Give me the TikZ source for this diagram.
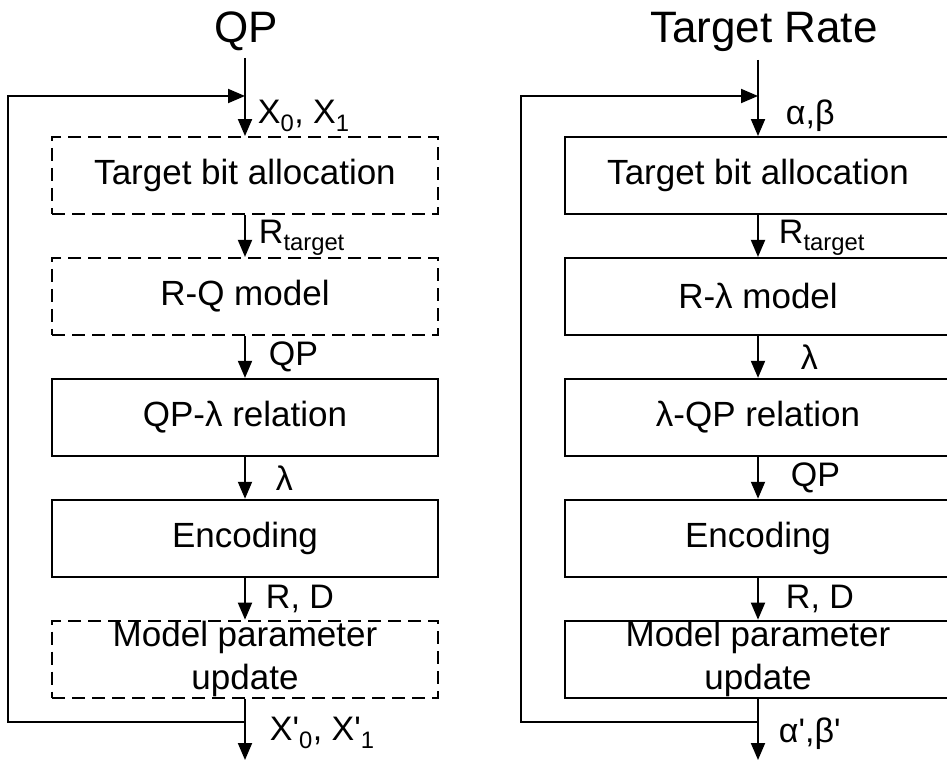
\documentclass[tikz,border=0pt]{standalone}
\usepackage{fontspec}
\setmainfont{Liberation Sans}
\usetikzlibrary{positioning,arrows.meta}
\tikzset{
  block/.style={draw, line width=1.9pt, minimum width=386pt, minimum height=77pt,
    inner sep=0pt, align=center, font=\fontsize{35}{43}\selectfont},
  dblock/.style={block, dash pattern=on 13pt off 7pt},
  wire/.style={line width=1.9pt},
  flow/.style={wire, -{Triangle[length=17pt,width=14pt]}},
  lbl/.style={anchor=west, inner sep=0pt, font=\fontsize{34}{40}\selectfont},
  heading/.style={anchor=base, inner sep=0pt, font=\fontsize{44}{50}\selectfont},
}
\begin{document}
\begin{tikzpicture}[x=1pt, y=-1pt, node distance=42pt]
  \useasboundingbox (0,0) rectangle (947,762);

  % QP based control (left)
  \node[heading] (qp) at (246,43) {QP};
  \coordinate (qpin) at (245,58);
  \coordinate (ljoin) at (245,96);
  \node[dblock] (lalloc) at (245,175.5) {Target bit allocation};
  \node[dblock, below=of lalloc] (lrq) {R-Q model};
  \node[block, below=of lrq] (lrel) {QP-λ relation};
  \node[block, below=of lrel] (lenc) {Encoding};
  \node[dblock, below=of lenc] (lupd) {Model parameter\\update};
  \coordinate (lsplit) at (245,722);
  \coordinate (lout) at (245,760);
  \coordinate (lcorner) at (8,722);

  \draw[wire] (qpin) -- (ljoin);
  \draw[flow] (ljoin) -- node[lbl, xshift=12pt] {X\textsubscript{0}, X\textsubscript{1}} (lalloc);
  \draw[flow] (lalloc) -- node[lbl, xshift=13pt, yshift=-2pt] {R\textsubscript{target}} (lrq);
  \draw[flow] (lrq) -- node[lbl, xshift=23pt] {QP} (lrel);
  \draw[flow] (lrel) -- node[lbl, xshift=30pt] {λ} (lenc);
  \draw[flow] (lenc) -- node[lbl, xshift=20pt] {R, D} (lupd);
  \draw[flow] (lupd) -- node[lbl, xshift=24pt, yshift=-4pt] {X\textquotesingle\textsubscript{0}, X\textquotesingle\textsubscript{1}} (lout);
  \draw[flow] (lsplit) -- (lcorner) |- (ljoin);

  % rate based control (right)
  \node[heading] (rate) at (764,43) {Target Rate};
  \coordinate (ratein) at (758,60);
  \coordinate (rjoin) at (758,96);
  \node[block] (ralloc) at (758,175.5) {Target bit allocation};
  \node[block, below=of ralloc] (rrl) {R-λ model};
  \node[block, below=of rrl] (rrel) {λ-QP relation};
  \node[block, below=of rrel] (renc) {Encoding};
  \node[block, below=of renc] (rupd) {Model parameter\\update};
  \coordinate (rsplit) at (758,722);
  \coordinate (rout) at (758,760);
  \coordinate (rcorner) at (521,722);

  \draw[wire] (ratein) -- (rjoin);
  \draw[flow] (rjoin) -- node[lbl, xshift=27pt] {α,β} (ralloc);
  \draw[flow] (ralloc) -- node[lbl, xshift=20pt, yshift=-2pt] {R\textsubscript{target}} (rrl);
  \draw[flow] (rrl) -- node[lbl, xshift=42pt] {λ} (rrel);
  \draw[flow] (rrel) -- node[lbl, xshift=32pt] {QP} (renc);
  \draw[flow] (renc) -- node[lbl, xshift=27pt] {R, D} (rupd);
  \draw[flow] (rupd) -- node[lbl, xshift=20pt, yshift=-4pt] {α\textquotesingle,β\textquotesingle} (rout);
  \draw[flow] (rsplit) -- (rcorner) |- (rjoin);
\end{tikzpicture}
\end{document}
